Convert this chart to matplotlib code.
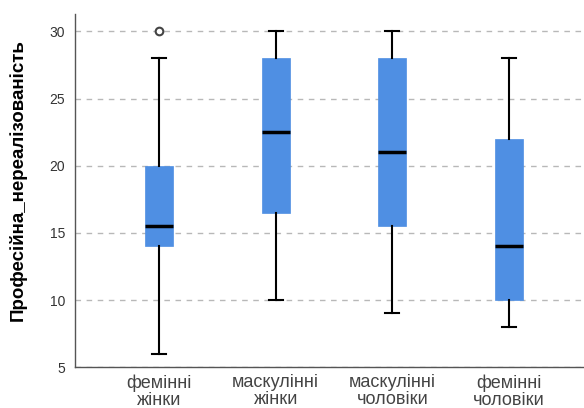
import matplotlib.pyplot as plt

plt.rcParams['font.family'] = ['Liberation Sans', 'DejaVu Sans']

groups = ['фемінні\nжінки', 'маскулінні\nжінки', 'маскулінні\nчоловіки', 'фемінні\nчоловіки']
whislo = [6, 10, 9, 8]
q1 = [14, 16.5, 15.5, 10]
med = [15.5, 22.5, 21, 14]
q3 = [20, 28, 28, 22]
whishi = [28, 30, 30, 28]
fliers = [[30], [], [], []]

stats = []
for i in range(len(groups)):
    stats.append(dict(whislo=whislo[i], q1=q1[i], med=med[i], q3=q3[i],
                      whishi=whishi[i], fliers=fliers[i], label=groups[i]))

fig = plt.figure(figsize=(5.84, 4.08), dpi=100)
ax = fig.add_axes([0.128, 0.100, 0.872, 0.866])

ax.yaxis.grid(True, linestyle=(0, (4, 4)), color='#b8b8b8', linewidth=1)
ax.set_axisbelow(True)

ax.bxp(stats, positions=range(len(groups)), widths=0.24, patch_artist=True,
       boxprops=dict(facecolor='#4f8fe3', edgecolor='#4f8fe3', linewidth=0.5),
       medianprops=dict(color='black', linewidth=2.5),
       whiskerprops=dict(color='black', linewidth=1.5),
       capprops=dict(color='black', linewidth=1.5),
       capwidths=0.12,
       flierprops=dict(marker='o', markerfacecolor='white', markeredgecolor='#444444',
                       markersize=5.5, markeredgewidth=1.5))

ax.set_xlim(-0.72, 3.64)
ax.set_ylim(5, 31.3)
ax.set_yticks([5, 10, 15, 20, 25, 30])
ax.tick_params(axis='y', length=0, labelsize=10, pad=7, labelcolor='#333333')
ax.tick_params(axis='x', length=0, labelsize=13, pad=5, labelcolor='#444444')
for lbl in ax.get_xticklabels():
    lbl.set_linespacing(1.0)
ax.set_ylabel('Професійна_нереалізованість', fontsize=13.5, fontweight='bold')
ax.yaxis.set_label_coords(-0.094, 0.53)

for s in ['top', 'right']:
    ax.spines[s].set_visible(False)
for s in ['left', 'bottom']:
    ax.spines[s].set_color('#555555')
    ax.spines[s].set_linewidth(1)

fig.savefig('out.png', dpi=100)
